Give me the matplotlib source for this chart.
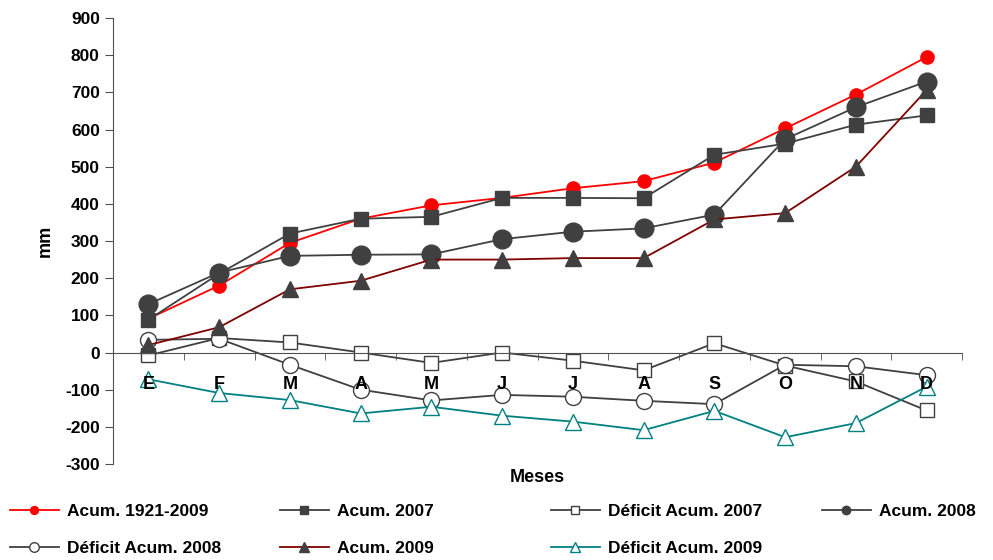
import matplotlib.pyplot as plt
import numpy as np

plt.rcParams['font.family'] = ['Liberation Sans', 'DejaVu Sans']
plt.rcParams['font.weight'] = 'bold'
plt.rcParams['axes.unicode_minus'] = False

# === Data ===
meses = ["E", "F", "M", "A", "M", "J", "J", "A", "S", "O", "N", "D"]
acum_1921_2009 = [91, 180, 295, 360, 396, 416, 442, 461, 511, 603, 694, 795]
acum_2007 = [88, 212, 320, 360, 365, 416, 416, 415, 532, 562, 613, 638]
deficit_2007 = [-8, 39, 27, 0, -28, 0, -22, -48, 25, -35, -78, -156]
acum_2008 = [130, 215, 260, 263, 264, 305, 325, 334, 371, 574, 660, 729]
deficit_2008 = [34, 37, -33, -100, -129, -114, -119, -130, -139, -33, -37, -61]
acum_2009 = [20, 68, 170, 193, 250, 250, 254, 254, 358, 375, 500, 706]
deficit_2009 = [-72, -109, -128, -164, -146, -170, -186, -209, -157, -228, -190, -92]

dark = "#404040"
x = np.arange(len(meses))

fig = plt.figure(figsize=(9.93, 5.6), dpi=100)
ax = fig.add_axes([113 / 993, 1 - 464 / 560, (962 - 113) / 993, (464 - 18) / 560])

lines = []
lines += ax.plot(x, acum_1921_2009, '-o', color='red', lw=1.3, ms=9.5, mec='red', mfc='red', label="Acum. 1921-2009")
lines += ax.plot(x, acum_2007, '-s', color=dark, lw=1.3, ms=10, mfc=dark, mec=dark, label="Acum. 2007")
lines += ax.plot(x, deficit_2007, '-s', color=dark, lw=1.3, ms=9.5, mfc='white', mec=dark, label="Déficit Acum. 2007")
lines += ax.plot(x, acum_2008, '-o', color=dark, lw=1.3, ms=13.5, mfc=dark, mec=dark, label="Acum. 2008")
lines += ax.plot(x, deficit_2008, '-o', color=dark, lw=1.3, ms=11.5, mfc='white', mec=dark, label="Déficit Acum. 2008")
lines += ax.plot(x, acum_2009, '-^', color='#800000', lw=1.3, ms=11, mfc=dark, mec=dark, label="Acum. 2009")
lines += ax.plot(x, deficit_2009, '-^', color='#008080', lw=1.3, ms=11, mfc='white', mec='#008080', label="Déficit Acum. 2009")

ax.set_xlim(-0.5, 11.5)
ax.set_ylim(-300, 900)
ax.set_yticks(np.arange(-300, 901, 100))
ax.set_axisbelow(False)  # month labels drawn over the markers

for s in ['top', 'right']:
    ax.spines[s].set_visible(False)
ax.spines['bottom'].set_position(('data', 0))
ax.spines['bottom'].set_color('#505050')
ax.spines['left'].set_color('#505050')

ax.set_xticks(x)
ax.set_xticklabels(meses, fontsize=13, fontweight='bold')
ax.set_xticks(np.arange(-0.5, 12, 1), minor=True)
ax.tick_params(axis='x', which='major', length=0, pad=17)
ax.tick_params(axis='x', which='minor', length=5, direction='out', color='#505050')
ax.tick_params(axis='y', length=6, color='#505050', labelsize=12.5)
for lbl in ax.get_yticklabels():
    lbl.set_fontweight('bold')

ax.set_ylabel("mm", fontsize=13, fontweight='bold', labelpad=8)
fig.text(537 / 993, 1 - 478 / 560, "Meses", ha='center', va='center', fontsize=13, fontweight='bold')

# legend: 4 columns, filled row by row
col_x = [10, 280, 551, 822]
cols = [[0, 4], [1, 5], [2, 6], [3]]
scales = [0.6, 0.6, 0.6, 0.45]
for cx, idx, sc in zip(col_x, cols, scales):
    fig.legend([lines[i] for i in idx], [lines[i].get_label() for i in idx],
               loc='upper left', bbox_to_anchor=(cx / 993, 1 - 504 / 560),
               frameon=False, handlelength=2.8, handletextpad=0.5, markerscale=sc,
               prop={'weight': 'bold', 'size': 12.5}, labelspacing=1.25,
               borderpad=0, borderaxespad=0)

fig.savefig("out.png", dpi=100)
